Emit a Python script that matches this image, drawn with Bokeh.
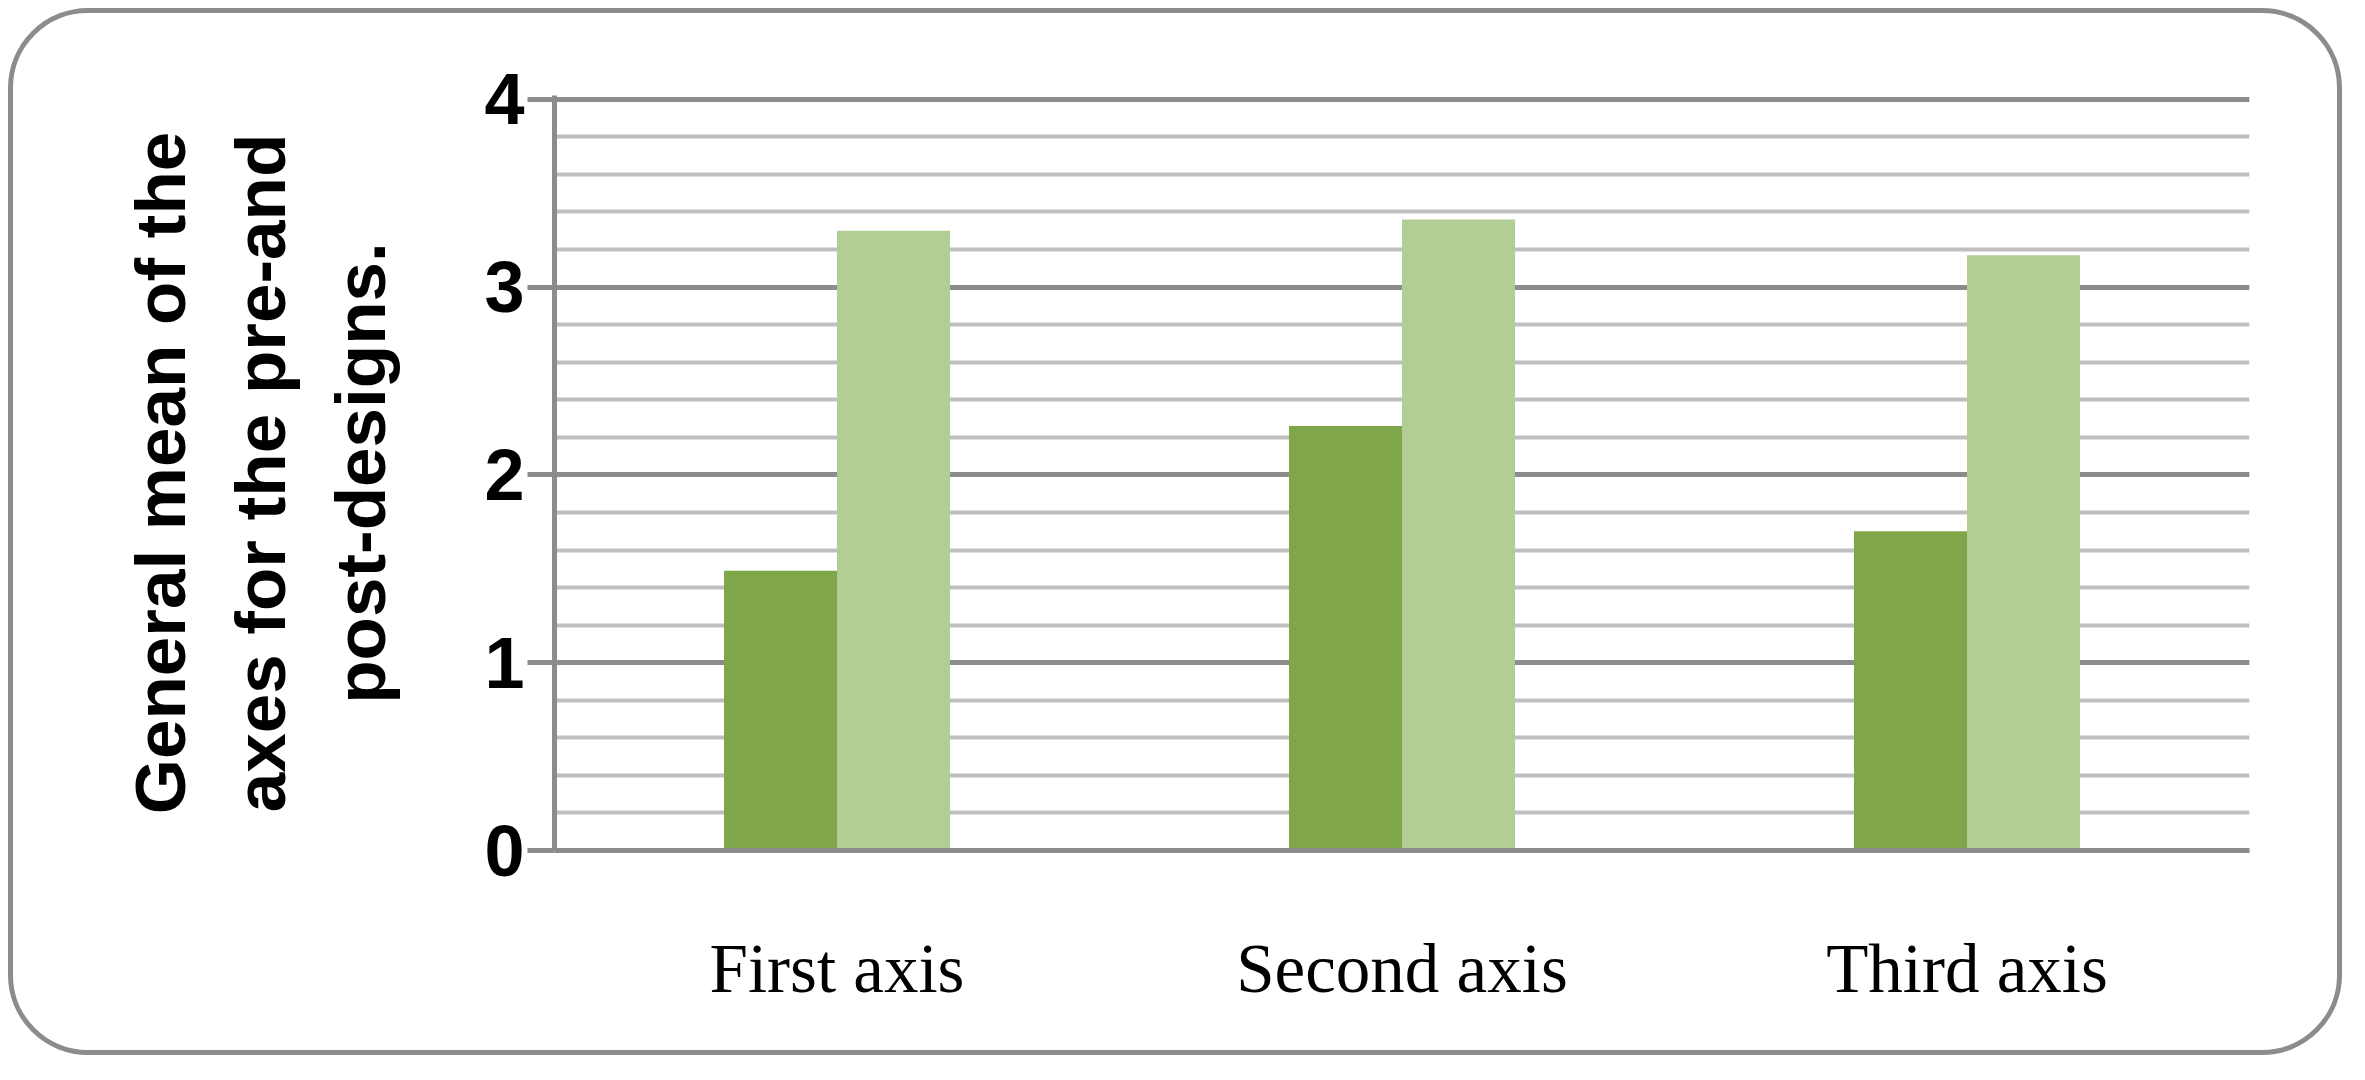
import math
from bokeh.plotting import figure
from bokeh.models import ColumnDataSource, FactorRange, Range1d, SingleIntervalTicker
from bokeh.transform import dodge
from bokeh.embed import file_html
from bokeh.resources import INLINE

# ---- data ----
categories = ["First axis", "Second axis", "Third axis"]
pre_design = [1.49, 2.26, 1.70]
post_design = [3.30, 3.36, 3.17]
title_lines = ["General mean of the", "axes for the pre-and", "post-designs."]

DARK = "#7fa649"
LIGHT = "#b3ce94"
MAJOR = "#8c8c8c"
MINOR = "#bfbfbf"

src = ColumnDataSource(dict(cat=categories, pre=pre_design, post=post_design))

W, H = 2350, 1063
LEFT, RIGHT, TOP, BOTTOM = 554, 101, 95, 213

p = figure(width=W, height=H,
           x_range=FactorRange(factors=categories, range_padding=0),
           y_range=Range1d(0, 4.02),
           output_backend="svg", toolbar_location=None,
           min_border_left=LEFT, min_border_right=RIGHT,
           min_border_top=TOP, min_border_bottom=BOTTOM)

# rounded frame around the whole chart, drawn inset from the element edge
p.styles = {"outline": f"5px solid {MAJOR}", "outline-offset": "-13px",
            "border-radius": "88px"}
p.border_fill_color = None
p.background_fill_color = None
p.outline_line_color = None

p.vbar(x=dodge("cat", -0.1, range=p.x_range), top="pre", bottom=0, width=0.2,
       source=src, fill_color=DARK, line_color=None)
p.vbar(x=dodge("cat", 0.1, range=p.x_range), top="post", bottom=0, width=0.2,
       source=src, fill_color=LIGHT, line_color=None)

# y axis
p.yaxis.ticker = SingleIntervalTicker(interval=1, num_minor_ticks=5)
p.yaxis.axis_line_color = MAJOR
p.yaxis.axis_line_width = 5
p.yaxis.major_tick_line_color = MAJOR
p.yaxis.major_tick_line_width = 5
p.yaxis.major_tick_out = 27
p.yaxis.major_tick_in = 0
p.yaxis.minor_tick_line_color = None
p.yaxis.major_label_text_font = "Liberation Sans"
p.yaxis.major_label_text_font_style = "bold"
p.yaxis.major_label_text_font_size = "72px"
p.yaxis.major_label_text_color = "#000000"
p.yaxis.major_label_standoff = 3

p.yaxis.axis_label = "\n".join(title_lines)
p.yaxis.axis_label_text_font = "Liberation Sans"
p.yaxis.axis_label_text_font_style = "bold"
p.yaxis.axis_label_text_font_size = "71px"
p.yaxis.axis_label_text_color = "#000000"
p.yaxis.axis_label_text_line_height = 1.27
p.yaxis.axis_label_standoff = 81

# x axis
p.xaxis.axis_line_color = MAJOR
p.xaxis.axis_line_width = 5
p.xaxis.major_tick_line_color = None
p.xaxis.minor_tick_line_color = None
p.xaxis.major_tick_out = 0
p.xaxis.major_tick_in = 0
p.xaxis.major_label_text_font = "Liberation Serif"
p.xaxis.major_label_text_font_size = "69px"
p.xaxis.major_label_text_color = "#000000"
p.xaxis.major_label_standoff = 80

# grid
p.xgrid.grid_line_color = None
p.ygrid.grid_line_color = MAJOR
p.ygrid.grid_line_width = 5
p.ygrid.minor_grid_line_color = MINOR
p.ygrid.minor_grid_line_width = 4

open("out.html", "w").write(file_html(p, INLINE))
